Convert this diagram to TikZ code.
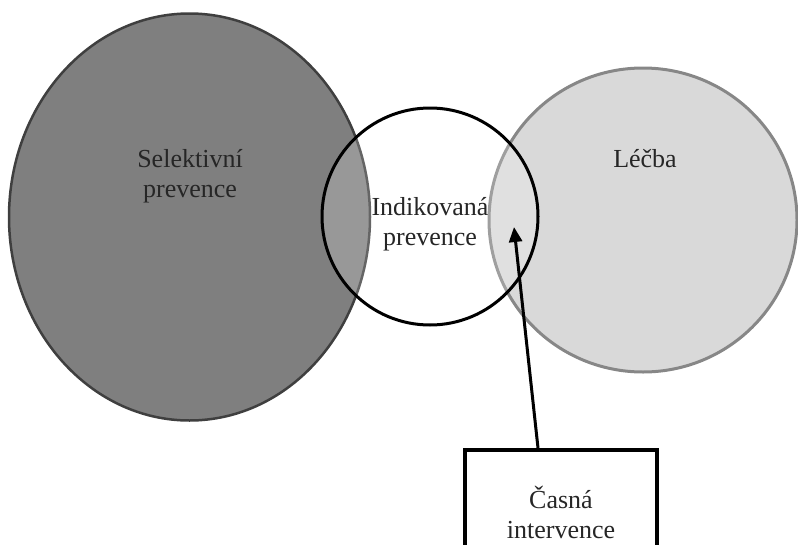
\documentclass[tikz,border=0pt]{standalone}
\usepackage{fontspec}
\setmainfont{Liberation Serif}
\usetikzlibrary{shapes.geometric,arrows.meta}

\definecolor{darkfill}{HTML}{7F7F7F}
\definecolor{darkedge}{HTML}{3F3F3F}
\definecolor{lightfill}{HTML}{D9D9D9}
\definecolor{lightedge}{HTML}{878787}
\definecolor{labeltext}{HTML}{262626}

\tikzset{
  x=1pt, y=-1pt,
  area/.style={ellipse, outer sep=0pt, inner sep=0pt},
  label/.style={font=\fontsize{26}{30}\selectfont, text=labeltext, align=center, inner sep=0pt},
  pointer/.style={line width=3pt, -{Triangle[length=15pt, width=13pt]}},
}

\begin{document}
\begin{tikzpicture}
  \useasboundingbox (0,0) rectangle (798,544);
  \clip (0,0) rectangle (798,544);

  % selective prevention
  \node[area, fill=darkfill, draw=darkedge, line width=2.5pt,
        minimum width=361pt, minimum height=407pt] (sel) at (189.5,217) {};
  % treatment
  \node[area, fill=lightfill, draw=lightedge, line width=3pt,
        minimum width=308pt, minimum height=304pt] (lec) at (643,220) {};
  % indicated prevention, a faint white veil over the other two
  \node[area, fill=white, fill opacity=0.2, draw=black, draw opacity=1, line width=3pt,
        minimum width=216pt, minimum height=217pt] (ind) at (430,216.5) {};

  \node[label] (tsel) at (190,176) {Selektivní\\prevence};
  \node[label, anchor=base] (tlec) at (645,167) {Léčba};
  \node[label] (tind) at (430,224) {Indikovaná\\prevence};

  % early intervention box
  \node[draw=black, line width=4.5pt, minimum width=192pt, minimum height=115pt,
        inner sep=0pt, outer sep=0pt] (box) at (561,507.5) {};
  \node[label] (tbox) at (561,512) {Časná\\intervence};

  \coordinate (tail) at (538,448);
  \coordinate (tip) at (514,227);
  \draw[pointer] (tail) -- (tip);
\end{tikzpicture}
\end{document}
